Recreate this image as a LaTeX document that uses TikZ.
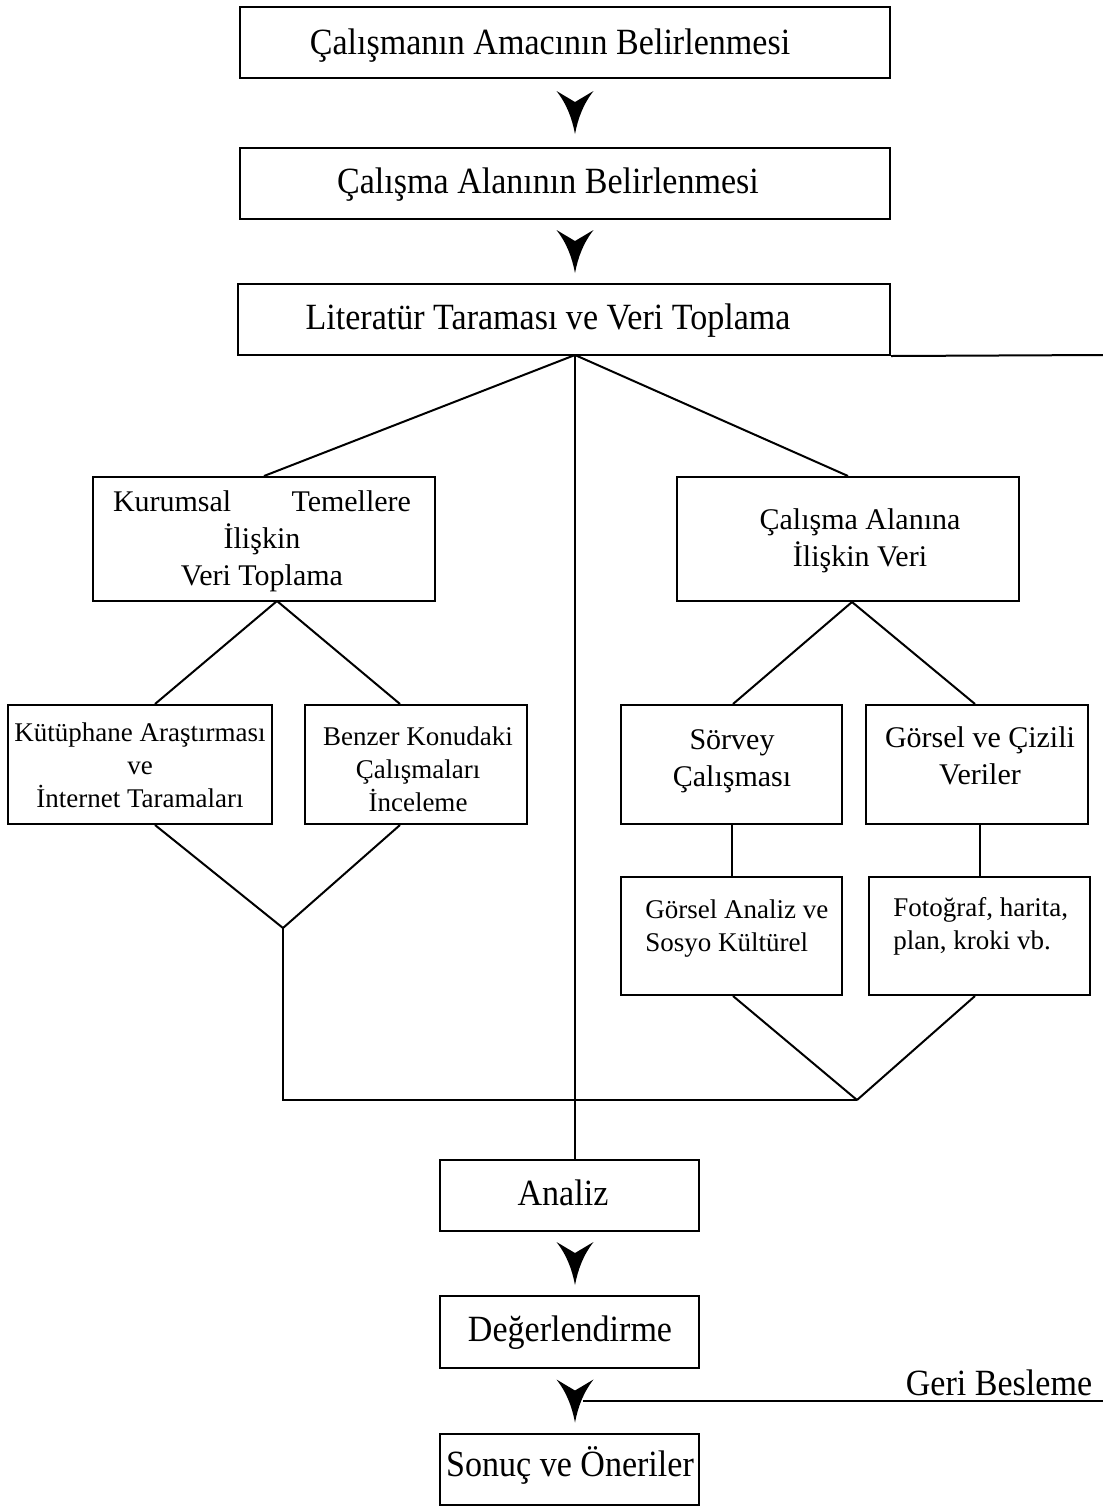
\documentclass[tikz,border=0pt]{standalone}
\usepackage{fontspec}
\setmainfont{Liberation Serif}
\newfontfamily\bigfont{Liberation Serif}[FakeStretch=0.92]
\usetikzlibrary{calc}
\tikzset{
  box/.style={draw, line width=1pt, inner sep=0pt, rectangle},
  conn/.style={line width=1pt},
  bigtxt/.style={font=\bigfont\fontsize{18.5pt}{22pt}\selectfont, inner sep=0pt},
  midtxt/.style={font=\fontsize{15pt}{18.5pt}\selectfont, align=center, inner sep=0pt},
  smalltxt/.style={font=\fontsize{13.5pt}{16.5pt}\selectfont, align=center, inner sep=0pt},
  dart/.pic={\fill (-18.5,-21.5) -- (0,-10.5) -- (18.5,-21.5) .. controls (8,-8) and (3,6) .. (0,21.5) .. controls (-3,6) and (-8,-8) .. (-18.5,-21.5) -- cycle;}
}
\begin{document}
\begin{tikzpicture}[x=0.5pt, y=-0.5pt]
\useasboundingbox (0,0) rectangle (1103,1506);
% boxes
\node[box, minimum width=325pt, minimum height=35.5pt] (B1) at (565,42.5) {};
\node[box, minimum width=325pt, minimum height=35.5pt] (B2) at (565,183.5) {};
\node[box, minimum width=326pt, minimum height=35.5pt] (B3) at (564,319.5) {};
\node[box, minimum width=171pt, minimum height=62pt] (K) at (264,539) {};
\node[box, minimum width=171pt, minimum height=62pt] (C) at (848,539) {};
\node[box, minimum width=132pt, minimum height=59.5pt] (Ku) at (140,764.5) {};
\node[box, minimum width=111pt, minimum height=59.5pt] (Be) at (416,764.5) {};
\node[box, minimum width=110.5pt, minimum height=59.5pt] (So) at (731.5,764.5) {};
\node[box, minimum width=111pt, minimum height=59.5pt] (Go) at (977,764.5) {};
\node[box, minimum width=110.5pt, minimum height=59pt] (GA) at (731.5,936) {};
\node[box, minimum width=110.5pt, minimum height=59pt] (Fo) at (979.5,936) {};
\node[box, minimum width=129.5pt, minimum height=35.5pt] (An) at (569.5,1195.5) {};
\node[box, minimum width=129.5pt, minimum height=36pt] (De) at (569.5,1332) {};
\node[box, minimum width=129.5pt, minimum height=35.5pt] (So2) at (569.5,1469.5) {};
% texts
\node[bigtxt] (t1) at (550,46) {Çalışmanın Amacının Belirlenmesi};
\node[bigtxt] (t2) at (548,185) {Çalışma Alanının Belirlenmesi};
\node[bigtxt] (t3) at (548,321) {Literatür Taraması ve Veri Toplama};
\node[midtxt] (tK) at (262,541) {\makebox[149pt]{Kurumsal\hfill Temellere}\\İlişkin\\Veri Toplama};
\node[midtxt] (tC) at (860,541) {Çalışma Alanına\\İlişkin Veri};
\node[smalltxt] (tKu) at (140,765) {Kütüphane Araştırması\\ve\\İnternet Taramaları};
\node[smalltxt] (tBe) at (418,769) {Benzer Konudaki\\Çalışmaları\\İnceleme};
\node[midtxt] (tSo) at (732,761) {Sörvey\\Çalışması};
\node[midtxt] (tGo) at (980,756) {Görsel ve Çizili\\Veriler};
\node[smalltxt, align=left, anchor=west] (tGA) at (645,929) {Görsel Analiz ve\\Sosyo Kültürel};
\node[smalltxt, align=left, anchor=west] (tFo) at (893,926.5) {Fotoğraf, harita,\\plan, kroki vb.};
\node[bigtxt] (tAn) at (563,1193) {Analiz};
\node[bigtxt] (tDe) at (570,1333) {Değerlendirme};
\node[bigtxt] (tSo2) at (570,1465) {Sonuç ve Öneriler};
\node[bigtxt] (tGB) at (999,1383) {Geri Besleme};
% arrows
\pic at (575,112.5) {dart};
\pic at (575,251.5) {dart};
\pic at (575,1263.5) {dart};
\pic at (575,1401) {dart};
% coordinates
\coordinate (hub) at (575,355);
\coordinate (edgeTop) at (1103,355);
\coordinate (edgeFb) at (1103,1401);
\coordinate (fb) at (583,1401);
\coordinate (kApex) at (277,601);
\coordinate (jl) at (283,928);
\coordinate (corner) at (283,1100);
\coordinate (jr) at (857,1100);
% connectors
\draw[conn] (B3.south east) -- (edgeTop);
\draw[conn] (edgeFb) -- (fb);
\draw[conn] (hub) -- (K.north);
\draw[conn] (hub) -- (C.north);
\draw[conn] (hub) -- (hub |- An.north);
\draw[conn] (kApex) -- ($(Ku.north)+(15,0)$);
\draw[conn] (kApex) -- ($(Be.north)+(-16,0)$);
\draw[conn] ($(Ku.south)+(15,0)$) -- (jl);
\draw[conn] ($(Be.south)+(-16,0)$) -- (jl);
\draw[conn] (jl) -- (corner) -- (jr);
\draw[conn] ($(C.south)+(4,0)$) -- ($(So.north)+(1.5,0)$);
\draw[conn] ($(C.south)+(4,0)$) -- ($(Go.north)+(-2,0)$);
\draw[conn] ($(So.south)+(0.5,0)$) -- ($(GA.north)+(0.5,0)$);
\draw[conn] ($(Go.south)+(3,0)$) -- ($(Fo.north)+(0.5,0)$);
\draw[conn] ($(GA.south)+(1.5,0)$) -- (jr);
\draw[conn] ($(Fo.south)+(-4.5,0)$) -- (jr);
\end{tikzpicture}
\end{document}
